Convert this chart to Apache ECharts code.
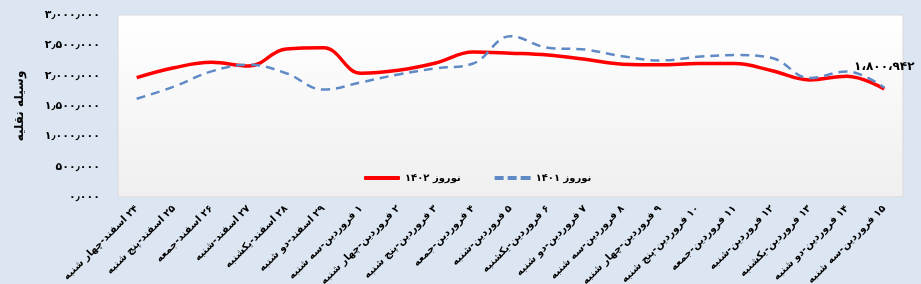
<!DOCTYPE html>
<html>
<head>
<meta charset="utf-8">
<script src="https://cdn.jsdelivr.net/npm/echarts@6/dist/echarts.min.js"></script>
<style>
html,body{margin:0;padding:0;background:#dce6f2;}
#c{width:921px;height:284px;}
</style>
</head>
<body>
<div id="c"></div>
<script>
var categories = ['۲۴ اسفند-چهار شنبه','۲۵ اسفند-پنج شنبه','۲۶ اسفند-جمعه','۲۷ اسفند-شنبه','۲۸ اسفند-یکشنبه','۲۹ اسفند-دو شنبه','۱ فروردین-سه شنبه','۲ فروردین-چهار شنبه','۳ فروردین-پنج شنبه','۴ فروردین-جمعه','۵ فروردین-شنبه','۶ فروردین-یکشنبه','۷ فروردین-دو شنبه','۸ فروردین-سه شنبه','۹ فروردین-چهار شنبه','۱۰ فروردین-پنج شنبه','۱۱ فروردین-جمعه','۱۲ فروردین-شنبه','۱۳ فروردین-یکشنبه','۱۴ فروردین-دو شنبه','۱۵ فروردین-سه شنبه'];
var series1402Name = 'نوروز ۱۴۰۲';
var series1401Name = 'نوروز ۱۴۰۱';
var values1402 = [1967000, 2130000, 2220000, 2160000, 2440000, 2460000, 2040000, 2090000, 2210000, 2390000, 2370000, 2340000, 2270000, 2190000, 2180000, 2200000, 2200000, 2080000, 1930000, 1990000, 1780000];
var values1401 = [1620000, 1820000, 2070000, 2180000, 2040000, 1770000, 1890000, 2020000, 2120000, 2200000, 2650000, 2460000, 2430000, 2320000, 2250000, 2310000, 2340000, 2290000, 1960000, 2070000, 1800942];
var yAxisTitle = 'وسیله نقلیه';

function fa(n, sep) {
  var s = String(Math.round(n)).replace(/\B(?=(\d{3})+(?!\d))/g, sep);
  return s.replace(/[0-9]/g, function (d) { return '۰۱۲۳۴۵۶۷۸۹'[+d]; });
}
function faAxis(n) {
  if (n === 0) return '۰٫۰۰۰';
  return fa(n, '٫');
}

var FONT = 'DejaVu Sans';
var RED = '#ff0000';
var BLUE = '#5f8ac6';
var TRANSPARENT = 'rgba(0,0,0,0)';
var blueData = values1401.map(function (v, i) {
  if (i === values1401.length - 1) {
    return {
      value: v,
      label: {
        show: true, position: 'top', distance: 14,
        formatter: function (p) { return fa(p.value, '،'); },
        fontFamily: FONT, fontWeight: 'bold', fontSize: 12, color: '#000'
      }
    };
  }
  return v;
});

var chart = echarts.init(document.getElementById('c'), null, {renderer: 'canvas'});
chart.setOption({
  backgroundColor: '#dce6f2',
  animation: false,
  grid: {
    left: 118, right: 18, top: 15, bottom: 87,
    outerBoundsMode: 'none',
    containLabel: false,
    show: true,
    borderColor: '#d9d9d9', borderWidth: 1,
    backgroundColor: new echarts.graphic.LinearGradient(0, 0, 0, 1, [
      {offset: 0, color: '#ffffff'}, {offset: 1, color: '#efefef'}
    ])
  },
  legend: {
    left: 359, top: 168,
    itemWidth: 36, itemHeight: 4, itemGap: 34,
    symbolKeepAspect: false,
    textStyle: {fontFamily: FONT, fontWeight: 'bold', fontSize: 10, color: '#000'},
    data: [
      {name: series1402Name, icon: 'roundRect', itemStyle: {color: RED}},
      {name: series1401Name, icon: 'path://M0,0h9v3h-9z M13,0h9v3h-9z M26,0h10v3h-10z', itemStyle: {color: BLUE}}
    ]
  },
  xAxis: {
    type: 'category',
    data: categories,
    boundaryGap: true,
    axisLine: {show: false},
    axisTick: {show: false},
    axisLabel: {
      interval: 0, rotate: 45, margin: 10,
      fontFamily: FONT, fontWeight: 'bold', fontSize: 10, color: '#000',
      formatter: function (v) { return '\u200F' + v; }
    }
  },
  yAxis: {
    type: 'value',
    min: 0, max: 3000000, interval: 500000,
    name: yAxisTitle,
    nameLocation: 'middle', nameRotate: 90, nameGap: 92,
    nameTextStyle: {fontFamily: FONT, fontWeight: 'bold', fontSize: 12, color: '#000'},
    axisLine: {show: false},
    axisTick: {show: false},
    splitLine: {show: false},
    axisLabel: {
      margin: 18,
      fontFamily: FONT, fontWeight: 'bold', fontSize: 11, color: '#000',
      formatter: faAxis
    }
  },
  series: [
    {
      name: series1402Name, type: 'line', data: values1402,
      smooth: 0.4, symbol: 'none',
      lineStyle: {color: RED, width: 3.5},
      itemStyle: {color: RED}
    },
    {
      name: series1401Name, type: 'line', data: blueData,
      smooth: 0.4, symbol: 'circle', symbolSize: 1, showSymbol: true,
      lineStyle: {color: BLUE, width: 2.5, type: [9, 6]},
      itemStyle: {color: TRANSPARENT},
      emphasis: {disabled: true}
    }
  ]
});
</script>
</body>
</html>
